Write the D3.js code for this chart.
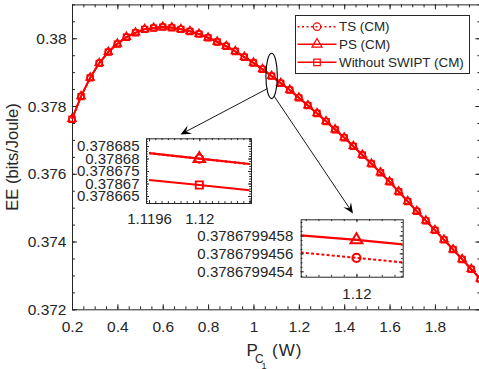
<!DOCTYPE html>
<html>
<head>
<meta charset="utf-8">
<script src="https://cdn.jsdelivr.net/npm/d3@7"></script>
<style>
  html, body { margin: 0; padding: 0; background: #fff; overflow: hidden; }
  svg { display: block; }
</style>
</head>
<body>
<svg id="chart" width="479" height="369"></svg>
<script>
// Transmit power of cell 1, P_C1 (W)
const powerC1 = [0.2, 0.24, 0.28, 0.32, 0.36, 0.4, 0.44, 0.48, 0.52, 0.56,
  0.6, 0.64, 0.68, 0.72, 0.76, 0.8, 0.84, 0.88, 0.92, 0.96,
  1.0, 1.04, 1.08, 1.12, 1.16, 1.2, 1.24, 1.28, 1.32, 1.36,
  1.4, 1.44, 1.48, 1.52, 1.56, 1.6, 1.64, 1.68, 1.72, 1.76,
  1.8, 1.84, 1.88, 1.92, 1.96, 2.0];

// Energy efficiency (bits/Joule), time switching
const eeTS = [0.37762, 0.37829, 0.37884, 0.37927, 0.37960, 0.37984, 0.38004, 0.38017, 0.38027, 0.38031,
  0.38034, 0.38032, 0.38027, 0.38021, 0.38013, 0.38002, 0.37990, 0.37977, 0.37962, 0.37945,
  0.37928, 0.37909, 0.37889, 0.37868, 0.37848, 0.37825, 0.37802, 0.37779, 0.37755, 0.37731,
  0.37707, 0.37682, 0.37656, 0.37630, 0.37604, 0.37577, 0.37548, 0.37519, 0.37490, 0.37462,
  0.37434, 0.37406, 0.37377, 0.37348, 0.37319, 0.37290];

// Energy efficiency (bits/Joule), power splitting
const eePS = [0.37762, 0.37829, 0.37884, 0.37927, 0.37960, 0.37984, 0.38004, 0.38017, 0.38027, 0.38031,
  0.38034, 0.38032, 0.38027, 0.38021, 0.38013, 0.38002, 0.37990, 0.37977, 0.37962, 0.37945,
  0.37928, 0.37909, 0.37889, 0.37868, 0.37848, 0.37825, 0.37802, 0.37779, 0.37755, 0.37731,
  0.37707, 0.37682, 0.37656, 0.37630, 0.37604, 0.37577, 0.37548, 0.37519, 0.37490, 0.37462,
  0.37434, 0.37406, 0.37377, 0.37348, 0.37319, 0.37290];

// Energy efficiency (bits/Joule), without SWIPT
const eeNoSwipt = [0.37761, 0.37828, 0.37883, 0.37926, 0.37959, 0.37983, 0.38003, 0.38016, 0.38026, 0.38030,
  0.38033, 0.38031, 0.38026, 0.38020, 0.38012, 0.38001, 0.37989, 0.37976, 0.37961, 0.37944,
  0.37927, 0.37908, 0.37888, 0.37867, 0.37847, 0.37824, 0.37801, 0.37778, 0.37754, 0.37730,
  0.37706, 0.37681, 0.37655, 0.37629, 0.37603, 0.37576, 0.37547, 0.37518, 0.37489, 0.37461,
  0.37433, 0.37405, 0.37376, 0.37347, 0.37318, 0.37289];

// Zoom window A around P_C1 = 1.12
const zoomA_P = [1.1196, 1.12, 1.1204];
const zoomA_TS = [0.3786822, 0.37867994555, 0.3786778];
const zoomA_PS = [0.3786822, 0.37867994575, 0.3786778];
const zoomA_NoSwipt = [0.3786714, 0.3786694, 0.3786673];

// Zoom window B, much closer around P_C1 = 1.12
const zoomB_P = [1.1199999912, 1.12, 1.1200000073];
const zoomB_TS = [0.37867994561, 0.37867994555, 0.37867994550];
const zoomB_PS = [0.37867994580, 0.37867994575, 0.37867994570];

// Tick values
const xTicks = [0.2, 0.4, 0.6, 0.8, 1.0, 1.2, 1.4, 1.6, 1.8, 2.0];
const yTicks = [0.372, 0.374, 0.376, 0.378, 0.38];
const zoomA_xTicks = [1.1196, 1.12, 1.1204];
const zoomA_yTicks = [0.378665, 0.37867, 0.378675, 0.37868, 0.378685];
const zoomB_xTicks = [1.12];
const zoomB_yTicks = [0.3786799454, 0.3786799456, 0.3786799458];

const legendLabels = ['TS (CM)', 'PS (CM)', 'Without SWIPT (CM)'];

// ---------------------------------------------------------------------
const F = "'Liberation Sans', Arial, Helvetica, sans-serif";
const RED = '#ff0000';
const INK = '#262626';

const svg = d3.select('#chart');
svg.append('rect').attr('width', 479).attr('height', 369).attr('fill', '#fff');

const x = d3.scaleLinear().domain([0.2, 2.0]).range([72, 480.3]);
const y = d3.scaleLinear().domain([0.372, 0.381]).range([309.3, 4.4]);

// Box with inward ticks on all four sides
function frame(g, xs, ys, o) {
  const [xl, xr] = xs.range();
  const [yb, yt] = ys.range();
  const add = (gen, scale, tr, vals, len, fmt, pad) => {
    const a = g.append('g').attr('transform', tr)
      .call(gen(scale).tickValues(vals).tickSize(-len).tickSizeOuter(0)
        .tickPadding(pad || 0).tickFormat(fmt || (() => '')));
    a.select('.domain').remove();
    a.attr('font-family', F).attr('font-size', o.fs).attr('color', INK);
    a.selectAll('line').attr('stroke-width', 1);
    return a;
  };
  add(d3.axisBottom, xs, `translate(0,${yb})`, o.xMinor, o.minor);
  add(d3.axisTop, xs, `translate(0,${yt})`, o.xMinor, o.minor);
  add(d3.axisLeft, ys, `translate(${xl},0)`, o.yMinor, o.minor);
  add(d3.axisRight, ys, `translate(${xr},0)`, o.yMinor, o.minor);
  add(d3.axisTop, xs, `translate(0,${yt})`, o.xMajor, o.major);
  add(d3.axisRight, ys, `translate(${xr},0)`, o.yMajor, o.major);
  add(d3.axisBottom, xs, `translate(0,${yb})`, o.xMajor, o.major, o.xFmt, o.xPad);
  add(d3.axisLeft, ys, `translate(${xl},0)`, o.yMajor, o.major, o.yFmt, o.yPad);
  g.append('rect')
    .attr('x', xl + 0.5).attr('y', yt + 0.5)
    .attr('width', xr - xl).attr('height', yb - yt)
    .attr('fill', 'none').attr('stroke', INK).attr('stroke-width', 1);
}

function marker(sel, type, size) {
  const t = { circle: d3.symbolCircle, triangle: d3.symbolTriangle, square: d3.symbolSquare }[type];
  return sel.attr('d', d3.symbol(t, size)());
}

function rangeBy(a, b, step) {
  const out = [];
  const n = Math.round((b - a) / step);
  for (let i = 0; i <= n; i++) out.push(a + i * step);
  return out;
}

// ---------------------------------------------------------------------
// Main axes
const main = svg.append('g');
frame(main, x, y, {
  fs: 15.5, major: 5, minor: 3,
  xMajor: xTicks, yMajor: yTicks,
  xMinor: rangeBy(0.2, 2.0, 0.05), yMinor: rangeBy(0.372, 0.381, 0.0005),
  xFmt: v => v > 1.9 ? '' : String(+v.toFixed(1)), xPad: 11.2,
  yFmt: v => String(+v.toFixed(3)), yPad: 5.5
});

const series = [
  { name: legendLabels[0], ee: eeTS, dash: '2,2.5', mark: 'circle', zA: zoomA_TS, zB: zoomB_TS },
  { name: legendLabels[1], ee: eePS, dash: null, mark: 'triangle', zA: zoomA_PS, zB: zoomB_PS },
  { name: legendLabels[2], ee: eeNoSwipt, dash: null, mark: 'square', zA: zoomA_NoSwipt, zB: null }
];
const mainSize = { circle: 30, triangle: 30, square: 36 };

const line = d3.line().x(d => x(d[0])).y(d => y(d[1]));
series.forEach(s => {
  const pts = powerC1.map((p, i) => [p, s.ee[i]]);
  main.append('path').attr('d', line(pts))
    .attr('fill', 'none').attr('stroke', RED).attr('stroke-width', 1.8)
    .attr('stroke-dasharray', s.dash);
  main.selectAll(null).data(pts).join('path')
    .call(marker, s.mark, mainSize[s.mark])
    .attr('transform', d => `translate(${x(d[0])},${y(d[1])})`)
    .attr('fill', 'none').attr('stroke', RED).attr('stroke-width', 1.3);
});

// Axis titles
svg.append('text')
  .attr('transform', 'translate(18,157) rotate(-90)')
  .attr('text-anchor', 'middle').attr('font-family', F).attr('font-size', 16.5).attr('fill', INK)
  .text('EE (bits/Joule)');
const xt = svg.append('g').attr('font-family', F).attr('fill', INK);
xt.append('text').attr('x', 246.5).attr('y', 356).attr('font-size', 17).text('P');
xt.append('text').attr('x', 255).attr('y', 362.5).attr('font-size', 12).text('C');
xt.append('text').attr('x', 261.5).attr('y', 368.5).attr('font-size', 9).text('1');
xt.append('text').attr('x', 272).attr('y', 356).attr('font-size', 17).attr('letter-spacing', 1).text('(W)');

// ---------------------------------------------------------------------
// Zoom ellipse and arrows
const ex = x(1.08), ey = y(0.37889);
svg.append('ellipse').attr('cx', ex).attr('cy', ey).attr('rx', 5.7).attr('ry', 22.7)
  .attr('fill', 'none').attr('stroke', '#000').attr('stroke-width', 1.1);

function arrow(x0, y0, x1, y1) {
  const a = Math.atan2(y1 - y0, x1 - x0);
  const L = 10.5, W = 4.6;
  const ca = Math.cos(a), sa = Math.sin(a);
  const bx = x1 - L * ca, by = y1 - L * sa;
  const nx = x1 - 0.6 * L * ca, ny = y1 - 0.6 * L * sa;
  svg.append('line').attr('x1', x0).attr('y1', y0).attr('x2', nx).attr('y2', ny)
    .attr('stroke', '#000').attr('stroke-width', 0.9);
  svg.append('path')
    .attr('d', `M${x1},${y1}L${bx - W * sa},${by + W * ca}L${nx},${ny}L${bx + W * sa},${by - W * ca}Z`)
    .attr('fill', '#000');
}
arrow(ex - 4.3, ey + 12.8, 180.5, 134.5);
arrow(ex + 2.4, ey + 20.1, 353, 213.5);

// ---------------------------------------------------------------------
// Zoom window A
const xA = d3.scaleLinear().domain([1.119576, 1.120411]).range([146, 251]);
const yA = d3.scaleLinear().domain([0.3786622, 0.3786881]).range([203, 138.3]);
const gA = svg.append('g');
gA.append('rect').attr('x', 146).attr('y', 138.3).attr('width', 105).attr('height', 64.7).attr('fill', '#fff');
gA.append('clipPath').attr('id', 'clipA').append('rect')
  .attr('x', 146).attr('y', 138.3).attr('width', 105).attr('height', 64.7);
const lineA = d3.line().x(d => xA(d[0])).y(d => yA(d[1]));
series.forEach(s => {
  const pts = zoomA_P.map((p, i) => [p, s.zA[i]]);
  gA.append('path').attr('d', lineA(pts)).attr('clip-path', 'url(#clipA)')
    .attr('fill', 'none').attr('stroke', RED).attr('stroke-width', 2.2)
    .attr('stroke-dasharray', s.dash);
  gA.append('path').call(marker, s.mark, s.mark === 'triangle' ? 60 : 52)
    .attr('transform', `translate(${xA(pts[1][0])},${yA(pts[1][1])})`)
    .attr('fill', 'none').attr('stroke', RED).attr('stroke-width', 1.8);
});
frame(gA, xA, yA, {
  fs: 15, major: 3, minor: 1.8,
  xMajor: zoomA_xTicks, yMajor: zoomA_yTicks,
  xMinor: rangeBy(1.11960, 1.12040, 0.00005), yMinor: rangeBy(0.378663, 0.378688, 0.000001),
  xFmt: v => v > 1.1202 ? '' : String(+v.toFixed(4)), xPad: 10.3,
  yFmt: v => String(+v.toFixed(6)), yPad: 6.5
});

// Zoom window B
const xB = d3.scaleLinear().domain([1.1199999912, 1.1200000073]).range([300.7, 402.7]);
const yB = d3.scaleLinear().domain([0.37867994534, 0.37867994598]).range([276.7, 219.3]);
const gB = svg.append('g');
gB.append('rect').attr('x', 300.7).attr('y', 219.3).attr('width', 102).attr('height', 57.4).attr('fill', '#fff');
gB.append('clipPath').attr('id', 'clipB').append('rect')
  .attr('x', 300.7).attr('y', 219.3).attr('width', 102).attr('height', 57.4);
const lineB = d3.line().x(d => xB(d[0])).y(d => yB(d[1]));
series.filter(s => s.zB).forEach(s => {
  const pts = zoomB_P.map((p, i) => [p, s.zB[i]]);
  gB.append('path').attr('d', lineB(pts)).attr('clip-path', 'url(#clipB)')
    .attr('fill', 'none').attr('stroke', RED).attr('stroke-width', 2.2)
    .attr('stroke-dasharray', s.dash ? '3,2.2' : null);
  gB.append('path').call(marker, s.mark, s.mark === 'triangle' ? 60 : 52)
    .attr('transform', `translate(${xB(pts[1][0])},${yB(pts[1][1])})`)
    .attr('fill', 'none').attr('stroke', RED).attr('stroke-width', 2);
});
frame(gB, xB, yB, {
  fs: 15, major: 3, minor: 1.8,
  xMajor: zoomB_xTicks, yMajor: zoomB_yTicks,
  xMinor: rangeBy(1.12 - 8e-9, 1.12 + 6e-9, 2e-9),
  yMinor: rangeBy(0.37867994535, 0.37867994595, 5e-11),
  xFmt: v => String(+v.toFixed(2)), xPad: 11.6,
  yFmt: v => v.toFixed(10), yPad: 7.4
});

// ---------------------------------------------------------------------
// Legend
const lg = svg.append('g');
lg.append('rect').attr('x', 295.5).attr('y', 15.5).attr('width', 174).attr('height', 58)
  .attr('fill', '#fff').attr('stroke', INK).attr('stroke-width', 1);
const legSize = { circle: 44, triangle: 44, square: 42 };
const legY = [26.7, 44.3, 62.3];
series.forEach((s, i) => {
  const row = lg.append('g').attr('transform', `translate(0,${legY[i]})`);
  row.append('line').attr('x1', 297.5).attr('x2', 336.5)
    .attr('stroke', RED).attr('stroke-width', 1.5).attr('stroke-dasharray', s.dash);
  row.append('path').call(marker, s.mark, legSize[s.mark])
    .attr('transform', 'translate(317,0)')
    .attr('fill', 'none').attr('stroke', RED).attr('stroke-width', 1.2);
  row.append('text').attr('x', 339).attr('dy', '0.35em')
    .attr('font-family', F).attr('font-size', 13.4).attr('fill', INK)
    .text(s.name);
});
</script>
</body>
</html>
